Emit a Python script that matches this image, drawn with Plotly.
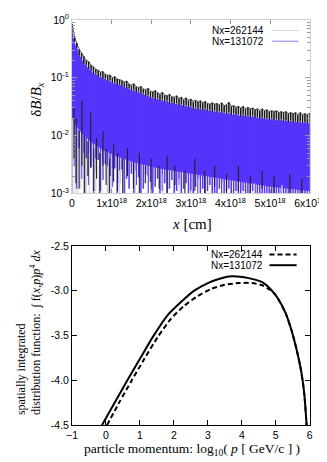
import numpy as np
import plotly.graph_objects as go

W, H = 327, 462

# ---------------- top panel data (x in units of 1e18 cm) ----------------
grid_x = [0.06 * i for i in range(101)]
blue_top = [0.72, 0.40, 0.33, 0.24, 0.22, 0.17, 0.165, 0.14, 0.135, 0.115,
            0.118, 0.102, 0.105, 0.092, 0.097, 0.085, 0.090, 0.079, 0.083, 0.074,
            0.078, 0.069, 0.072, 0.064, 0.066, 0.058, 0.062, 0.055, 0.057, 0.051,
            0.054, 0.047, 0.050, 0.044, 0.046, 0.041, 0.044, 0.039, 0.042, 0.037,
            0.040, 0.035, 0.038, 0.034, 0.036, 0.032, 0.035, 0.031, 0.033, 0.030,
            0.032, 0.028, 0.031, 0.027, 0.030, 0.027, 0.029, 0.026, 0.028, 0.025,
            0.027, 0.024, 0.026, 0.024, 0.025, 0.023, 0.025, 0.022, 0.024, 0.022,
            0.023, 0.021, 0.023, 0.021, 0.022, 0.020, 0.022, 0.020, 0.021, 0.019,
            0.021, 0.019, 0.020, 0.018, 0.020, 0.018, 0.019, 0.0175, 0.019, 0.0172,
            0.0185, 0.017, 0.018, 0.0165, 0.0178, 0.0163, 0.0175, 0.016, 0.0172, 0.0158,
            0.0168]
blue_low = [0.0009, 0.003, 0.0012, 0.006, 0.0018, 0.0009, 0.004, 0.0014, 0.0028, 0.0008,
            0.0024, 0.0038, 0.0011, 0.0017, 0.0032, 0.0009, 0.002, 0.0013, 0.0027, 0.0009,
            0.0015, 0.0026, 0.0008, 0.0018, 0.0012, 0.0022, 0.0009, 0.0014, 0.0019, 0.0008,
            0.0012, 0.0021, 0.001, 0.0016, 0.0008, 0.0013, 0.0018, 0.0009, 0.0011, 0.0015,
            0.0008, 0.0012, 0.0017, 0.0009, 0.0011, 0.0014, 0.0008, 0.0012, 0.0015, 0.0009,
            0.0011, 0.0008, 0.0013, 0.001, 0.0008, 0.0012, 0.0009, 0.0011, 0.0014, 0.0008,
            0.001, 0.0008, 0.0012, 0.0009, 0.0008, 0.0011, 0.0012, 0.0008, 0.0009, 0.0011,
            0.0008, 0.001, 0.0011, 0.0008, 0.0009, 0.0008, 0.0011, 0.0008, 0.001, 0.0008,
            0.0009, 0.0008, 0.001, 0.0008, 0.0008, 0.001, 0.0008, 0.0009, 0.0008, 0.001,
            0.0008, 0.0008, 0.0009, 0.0008, 0.001, 0.0008, 0.0008, 0.0009, 0.0008, 0.0008,
            0.0008]
black_top = [0.85, 0.52, 0.40, 0.31, 0.27, 0.235, 0.20, 0.19, 0.165, 0.155,
             0.14, 0.135, 0.125, 0.128, 0.115, 0.11, 0.112, 0.10, 0.105, 0.095,
             0.092, 0.09, 0.084, 0.088, 0.078, 0.074, 0.079, 0.07, 0.068, 0.071,
             0.064, 0.062, 0.066, 0.058, 0.057, 0.06, 0.055, 0.052, 0.056, 0.05,
             0.049, 0.052, 0.047, 0.046, 0.049, 0.044, 0.046, 0.042, 0.045, 0.041,
             0.043, 0.039, 0.041, 0.038, 0.040, 0.037, 0.039, 0.036, 0.035, 0.037,
             0.035, 0.036, 0.034, 0.037, 0.033, 0.034, 0.038, 0.032, 0.033, 0.031,
             0.032, 0.030, 0.032, 0.029, 0.031, 0.029, 0.030, 0.028, 0.029, 0.027,
             0.029, 0.027, 0.028, 0.026, 0.027, 0.026, 0.027, 0.025, 0.026, 0.025,
             0.026, 0.024, 0.025, 0.024, 0.025, 0.023, 0.025, 0.023, 0.024, 0.023,
             0.0245]
floor_x = [0, 0.1, 0.25, 0.5, 0.8, 1.2, 1.6, 2.2, 3.0, 4.0, 5.0, 6.0]
floor_v = [0.02, 0.015, 0.011, 0.0075, 0.0055, 0.0042, 0.0034, 0.0027, 0.0022, 0.0017, 0.0013, 0.0011]

black_dip_x = [0.05, 0.1, 0.18, 0.25, 0.32, 0.4, 0.47, 0.55, 0.62, 0.7, 0.78, 0.86, 0.95,
               1.05, 1.15, 1.28, 1.4, 1.55, 1.7, 1.85, 2.0, 2.2, 2.4, 2.6, 2.85, 3.1,
               3.35, 3.6, 3.9, 4.2, 4.5, 4.8, 5.1, 5.5, 5.8]
black_dip_hi = [0.03, 0.02, 0.012, 0.04, 0.01, 0.008, 0.025, 0.006, 0.009, 0.005, 0.012, 0.006, 0.004,
                0.007, 0.005, 0.004, 0.006, 0.0035, 0.005, 0.003, 0.004, 0.003, 0.0045, 0.003, 0.0025, 0.004,
                0.0025, 0.003, 0.0022, 0.003, 0.002, 0.0025, 0.002, 0.0022, 0.0018]
black_dip_lo = [0.004, 0.0015, 0.0012, 0.003, 0.0009, 0.002, 0.0028, 0.0011, 0.0018, 0.0009, 0.003, 0.0014, 0.0009,
                0.0016, 0.0011, 0.0008, 0.002, 0.0012, 0.0009, 0.0015, 0.0009, 0.0012, 0.0008, 0.0014, 0.0009, 0.0011,
                0.0008, 0.0013, 0.0009, 0.0011, 0.0008, 0.0012, 0.0009, 0.001, 0.0009]
grey_dip_x = [0.02, 0.08, 0.15, 0.22, 0.3, 0.36, 0.44, 0.52, 0.6, 0.68, 0.75, 0.9, 1.0, 1.2,
              1.35, 1.6, 1.9, 2.3, 2.7, 3.2, 3.8, 4.6, 5.3]
grey_dip_hi = [0.02, 0.01, 0.006, 0.008, 0.005, 0.004, 0.005, 0.0035, 0.004, 0.003, 0.0035, 0.003, 0.0028, 0.0025,
               0.0022, 0.0025, 0.002, 0.0022, 0.0018, 0.0018, 0.0016, 0.0015, 0.0014]
grey_dip_lo = [0.0008, 0.0009, 0.0008, 0.0012, 0.0008, 0.001, 0.0008, 0.0009, 0.0008, 0.001, 0.0008, 0.0009, 0.0008, 0.0008,
               0.0009, 0.0008, 0.0008, 0.0009, 0.0008, 0.0008, 0.0008, 0.0008, 0.0008]

x_ticks = [0, 1, 2, 3, 4, 5, 6]
x_ticktext = ["0"] + [f"{k}x10<sup>18</sup>" for k in range(1, 7)]
y_ticks_top = [1e-3, 1e-2, 1e-1, 1e0]
y_ticktext_top = ["10<sup>-3</sup>", "10<sup>-2</sup>", "10<sup>-1</sup>", "10<sup>0</sup>"]
series_names = ["Nx=262144", "Nx=131072"]

# ---------------- bottom panel data ----------------
solid_p = [-0.12, 0.3, 0.63, 1.0, 1.39, 1.8, 2.2, 2.6, 3.0, 3.3, 3.7, 4.2, 4.6, 4.83, 5.06, 5.29, 5.47, 5.61, 5.75, 5.84, 5.91]
solid_y = [-4.50, -4.22, -4.00, -3.76, -3.51, -3.28, -3.13, -3.00, -2.915, -2.872, -2.84, -2.86, -2.905, -2.975, -3.085, -3.25, -3.45, -3.65, -3.90, -4.15, -4.50]
dash_p = [0.03, 0.4, 0.76, 1.13, 1.52, 1.9, 2.3, 2.7, 3.1, 3.5, 3.9, 4.3, 4.6, 4.83, 5.0, 5.06, 5.29, 5.47, 5.61, 5.75, 5.84, 5.91]
dash_y = [-4.50, -4.24, -4.00, -3.76, -3.52, -3.32, -3.17, -3.06, -2.98, -2.935, -2.915, -2.915, -2.94, -2.99, -3.05, -3.085, -3.25, -3.45, -3.65, -3.90, -4.15, -4.50]
bx_ticks = [-1, 0, 1, 2, 3, 4, 5, 6]
by_ticks = [-4.5, -4.0, -3.5, -3.0, -2.5]
by_ticktext = ["-4.5", "-4.0", "-3.5", "-3.0", "-2.5"]

BLUE = "#5634fb"
E18 = 1e18


def px(x):
    return x / W


def py(y):
    return 1 - y / H


def segments(xs, his, los, scale=E18):
    sx, sy = [], []
    for x, h, l in zip(xs, his, los):
        sx += [x * scale, x * scale, None]
        sy += [h, l, None]
    return sx, sy


fig = go.Figure()

# black band (Nx=262144): vertical strokes + ragged top line
sx, sy = segments(grid_x, black_top, blue_top)
fig.add_trace(go.Scatter(x=sx, y=sy, mode="lines", line=dict(color="#1a1a1a", width=1.6),
                         xaxis="x", yaxis="y", showlegend=False, hoverinfo="skip"))
fig.add_trace(go.Scatter(x=[v * E18 for v in grid_x], y=black_top, mode="lines",
                         line=dict(color="#333333", width=0.8), xaxis="x", yaxis="y",
                         showlegend=False, hoverinfo="skip"))
# blue solid body (Nx=131072)
poly_x = [v * E18 for v in grid_x] + [v * E18 for v in floor_x[::-1]]
poly_y = blue_top + floor_v[::-1]
fig.add_trace(go.Scatter(x=poly_x, y=poly_y, mode="lines", fill="toself", fillcolor=BLUE,
                         line=dict(width=0, color=BLUE), xaxis="x", yaxis="y",
                         showlegend=False, hoverinfo="skip"))
sx, sy = segments(grid_x, blue_top, blue_low)
fig.add_trace(go.Scatter(x=sx, y=sy, mode="lines", line=dict(color=BLUE, width=1.5),
                         xaxis="x", yaxis="y", showlegend=False, hoverinfo="skip"))
sx, sy = segments(grey_dip_x, grey_dip_hi, grey_dip_lo)
fig.add_trace(go.Scatter(x=sx, y=sy, mode="lines", line=dict(color="#d4d4dc", width=1.2),
                         xaxis="x", yaxis="y", showlegend=False, hoverinfo="skip"))
sx, sy = segments(black_dip_x, black_dip_hi, black_dip_lo)
fig.add_trace(go.Scatter(x=sx, y=sy, mode="lines", line=dict(color="#222222", width=1.1),
                         xaxis="x", yaxis="y", showlegend=False, hoverinfo="skip"))

# bottom panel curves
fig.add_trace(go.Scatter(x=dash_p, y=dash_y, mode="lines",
                         line=dict(color="black", width=2, dash="5px,3px", shape="spline", smoothing=0.6),
                         xaxis="x2", yaxis="y2", showlegend=False, hoverinfo="skip"))
fig.add_trace(go.Scatter(x=solid_p, y=solid_y, mode="lines",
                         line=dict(color="black", width=2, shape="spline", smoothing=0.6),
                         xaxis="x2", yaxis="y2", showlegend=False, hoverinfo="skip"))

SANS = "Liberation Sans, Arial, sans-serif"
SERIF = "Liberation Serif, Times New Roman, serif"
tickfont = dict(family=SANS, size=10.5, color="black")

minor_top = [m * 10.0 ** k for k in (-3, -2, -1) for m in range(2, 10)]

common = dict(showgrid=False, zeroline=False, tickfont=tickfont, ticklabeloverflow="allow",
              showline=True, linewidth=1, ticks="inside", mirror="ticks")
fig.update_layout(
    width=W, height=H, margin=dict(l=0, r=0, t=0, b=0),
    paper_bgcolor="white", plot_bgcolor="white", showlegend=False,
    xaxis=dict(domain=[px(62), px(316)], range=[0, 6e18], anchor="y",
               tickvals=[v * E18 for v in x_ticks], ticktext=x_ticktext,
               ticklen=4, tickcolor="#999999", linecolor="#d0d0d0", **common),
    yaxis=dict(domain=[py(183), py(4)], type="log", range=[-3, 0], anchor="x",
               tickvals=y_ticks_top, ticktext=y_ticktext_top,
               ticklen=5, tickcolor="#999999",
               minor=dict(tickvals=minor_top, ticks="inside", ticklen=3, tickcolor="#999999"),
               linecolor="#d0d0d0", **common),
    xaxis2=dict(domain=[px(62), px(316)], range=[-1, 6], anchor="y2",
                tickvals=bx_ticks, ticklen=5, tickcolor="black", linecolor="black", **common),
    yaxis2=dict(domain=[py(422), py(237)], range=[-4.5, -2.5], anchor="x2",
                tickvals=by_ticks, ticktext=by_ticktext, ticklen=5,
                tickcolor="black", linecolor="black", **common),
)

ann = []
ann.append(dict(text="δ<i>B</i>/<i>B</i><sub><i>x</i></sub>", x=px(25), y=py(86), textangle=-90,
                font=dict(family=SERIF, size=15, color="black")))
ann.append(dict(text="<i>x</i> [cm]", x=px(190), y=py(214),
                font=dict(family=SERIF, size=15, color="black")))
ann.append(dict(text="particle momentum: log<sub>10</sub>( <i>p</i> [ GeV/c ] )", x=px(190), y=py(447),
                font=dict(family=SERIF, size=13.5, color="black")))
ann.append(dict(text="spatially integrated<br>distribution function:  ∫ f(<i>x</i>,<i>p</i>)<i>p</i><sup>4</sup> <i>dx</i>",
                x=px(16), y=py(326), textangle=-90, align="left",
                font=dict(family=SERIF, size=12, color="black")))
# legends
for i, name in enumerate(series_names):
    ann.append(dict(text=name, x=px(268), y=py(15 + 11 * i), xanchor="right", borderpad=0,
                    font=dict(family=SANS, size=10, color="black")))
    ann.append(dict(text=name, x=px(267), y=py(246 + 11 * i), xanchor="right", borderpad=0,
                    font=dict(family=SANS, size=10, color="black")))
for a in ann:
    a.update(xref="paper", yref="paper", showarrow=False)
    a.setdefault("xanchor", "center")
    a.setdefault("yanchor", "middle")
fig.update_layout(annotations=ann)

shapes = [
    dict(type="line", x0=px(276), x1=px(304), y0=py(15), y1=py(15), line=dict(color="#d6d6d6", width=1)),
    dict(type="line", x0=px(276), x1=px(304), y0=py(26), y1=py(26), line=dict(color="#8a78f2", width=1)),
    dict(type="line", x0=px(273), x1=px(302), y0=py(246), y1=py(246), line=dict(color="black", width=2, dash="5px,3px")),
    dict(type="line", x0=px(273), x1=px(302), y0=py(257), y1=py(257), line=dict(color="black", width=2)),
]
for s in shapes:
    s.update(xref="paper", yref="paper")
fig.update_layout(shapes=shapes)

fig.write_html("out.html")
